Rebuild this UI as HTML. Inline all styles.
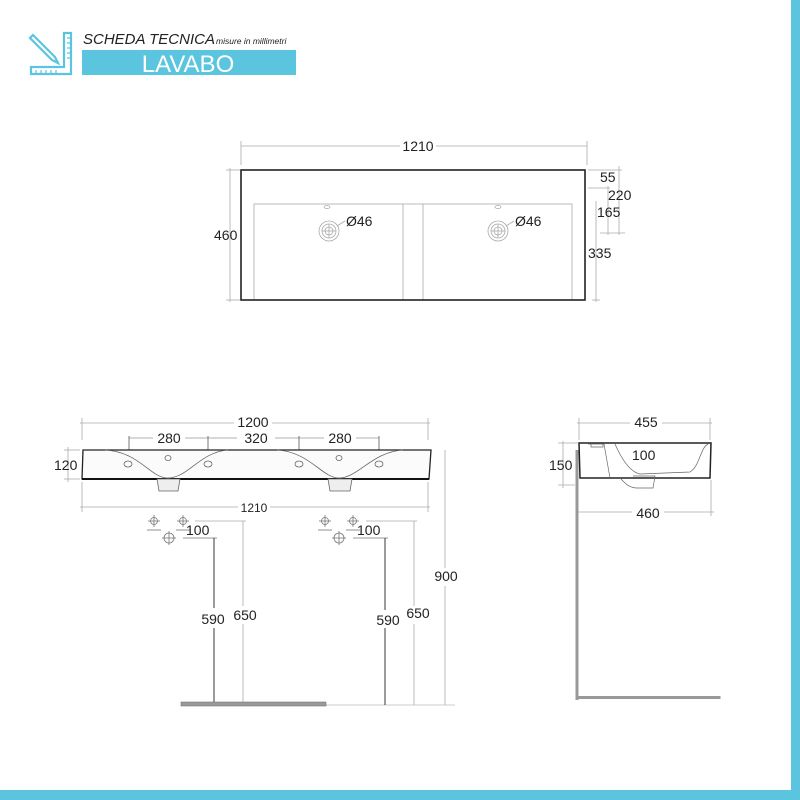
<!DOCTYPE html>
<html><head><meta charset="utf-8"><style>
html,body{margin:0;padding:0;background:#fff}
svg{display:block}
text{font-family:"Liberation Sans",sans-serif;fill:#222}
</style></head><body>
<svg width="800" height="800" viewBox="0 0 800 800" xmlns="http://www.w3.org/2000/svg">
<rect x="0" y="0" width="800" height="800" fill="#fff"/>
<rect x="0" y="790" width="800" height="10" fill="#5bc5e0"/>
<rect x="791" y="0" width="9" height="800" fill="#5bc5e0"/>

<!-- logo -->
<g stroke="#5bc5e0" fill="none" stroke-width="2.2">
<path d="M33 35 L55 57 L58 63 L52 60 L30 38 Z"/>
<path d="M64 33 L71 33 L71 74 L31 74 L31 67 L64 67 Z"/>
<path d="M36 70 v3 M41 70 v3 M46 70 v3 M51 70 v3 M56 70 v3 M67 38 h3 M67 43 h3 M67 48 h3 M67 53 h3 M67 58 h3" stroke-width="1.2"/>
</g>
<text x="83" y="44" font-size="15" font-style="italic" fill="#111">SCHEDA TECNICA</text>
<text x="216" y="44" font-size="8.5" font-style="italic" fill="#111">misure in millimetri</text>
<rect x="82" y="50" width="214" height="25" fill="#5bc5e0"/>
<text x="188" y="72" font-size="24" text-anchor="middle" fill="#fff" style="fill:#fff">LAVABO</text>

<!-- top view -->
<g stroke="#aaa" stroke-width="0.8" fill="none">
<line x1="241" y1="146" x2="587" y2="146"/>
<line x1="241" y1="141" x2="241" y2="165"/><line x1="587" y1="141" x2="587" y2="165"/>
<line x1="230" y1="168" x2="230" y2="302"/>
<line x1="226" y1="170" x2="240" y2="170"/><line x1="226" y1="300" x2="240" y2="300"/>
<line x1="588" y1="170" x2="622" y2="170"/>
<line x1="588" y1="188" x2="610" y2="188"/>
<line x1="600" y1="233" x2="625" y2="233"/>
<line x1="608" y1="186" x2="608" y2="235"/>
<line x1="619" y1="166" x2="619" y2="235"/>
<line x1="596" y1="201" x2="596" y2="302"/>
<line x1="592" y1="300" x2="600" y2="300"/>
<rect x="254" y="204" width="318" height="96"/>
<line x1="403" y1="204" x2="403" y2="300"/><line x1="423" y1="204" x2="423" y2="300"/>
<circle cx="329" cy="231" r="10"/><circle cx="329" cy="231" r="7"/><circle cx="329" cy="231" r="4"/>
<line x1="329" y1="224" x2="329" y2="238"/><line x1="322" y1="231" x2="336" y2="231"/>
<circle cx="498" cy="231" r="10"/><circle cx="498" cy="231" r="7"/><circle cx="498" cy="231" r="4"/>
<line x1="498" y1="224" x2="498" y2="238"/><line x1="491" y1="231" x2="505" y2="231"/>
<path d="M337 226 L345 221"/><path d="M506 226 L514 221"/>
<ellipse cx="327" cy="207" rx="3" ry="1.5"/><ellipse cx="498" cy="207" rx="3" ry="1.5"/>
</g>
<rect x="241" y="170" width="344" height="130" fill="none" stroke="#222" stroke-width="1.6"/>
<g font-size="14">
<rect x="400" y="138" width="36" height="14" fill="#fff"/>
<text x="418" y="151" text-anchor="middle">1210</text>
<text x="214" y="240">460</text>
<text x="346" y="226">Ø46</text><text x="515" y="226">Ø46</text>
<text x="600" y="182">55</text>
<text x="608" y="200">220</text>
<text x="597" y="217">165</text>
<text x="588" y="258">335</text>
</g>

<!-- front view -->
<g stroke="#aaa" stroke-width="0.8" fill="none">
<line x1="80" y1="423" x2="430" y2="423"/>
<line x1="82" y1="418" x2="82" y2="440"/><line x1="428" y1="418" x2="428" y2="440"/>
<line x1="129" y1="438" x2="379" y2="438" stroke="#999"/>
<line x1="129" y1="436" x2="129" y2="456" stroke="#555"/><line x1="208" y1="436" x2="208" y2="456" stroke="#555"/>
<line x1="299" y1="436" x2="299" y2="456" stroke="#555"/><line x1="379" y1="436" x2="379" y2="456" stroke="#555"/>
<line x1="68" y1="447" x2="68" y2="482"/>
<line x1="64" y1="450" x2="80" y2="450"/><line x1="64" y1="479" x2="80" y2="479"/>
<line x1="80" y1="507" x2="430" y2="507"/>
<line x1="82" y1="482" x2="82" y2="512"/><line x1="428" y1="482" x2="428" y2="512"/>
</g>
<path d="M83 450 L431 450 L429 479 L82 479 Z" fill="#fbfbfb" stroke="#222" stroke-width="1.3"/>
<line x1="82" y1="479" x2="429" y2="479" stroke="#111" stroke-width="2"/>
<g stroke="#666" stroke-width="0.8" fill="none">
<path d="M105 450 C140 452,150 478,168 478 C188 478,200 452,228 450"/>
<path d="M277 450 C310 452,322 478,339 478 C358 478,372 452,403 450"/>
<ellipse cx="128" cy="464" rx="4" ry="3"/><ellipse cx="208" cy="464" rx="4" ry="3"/>
<ellipse cx="299" cy="464" rx="4" ry="3"/><ellipse cx="379" cy="464" rx="4" ry="3"/>
<ellipse cx="168" cy="458" rx="3" ry="2.5"/><ellipse cx="339" cy="458" rx="3" ry="2.5"/>
<path d="M157 479 L180 479 L178 491 L159 491 Z" fill="#eee"/>
<path d="M328 479 L352 479 L350 491 L330 491 Z" fill="#eee"/>
</g>
<g font-size="14">
<rect x="234" y="414" width="38" height="14" fill="#fff"/>
<text x="253" y="427" text-anchor="middle">1200</text>
<rect x="153" y="431" width="32" height="14" fill="#fff"/><text x="169" y="443" text-anchor="middle">280</text>
<rect x="237" y="431" width="38" height="14" fill="#fff"/><text x="256" y="443" text-anchor="middle">320</text>
<rect x="324" y="431" width="32" height="14" fill="#fff"/><text x="340" y="443" text-anchor="middle">280</text>
<text x="54" y="470">120</text>
</g>
<rect x="238" y="500" width="32" height="14" fill="#fff"/>
<text x="254" y="512" font-size="12" text-anchor="middle">1210</text>

<!-- plumbing -->
<g stroke="#777" stroke-width="0.8" fill="none">
<circle cx="154" cy="521" r="3.5"/><line x1="154" y1="515" x2="154" y2="527"/><line x1="148" y1="521" x2="160" y2="521"/><line x1="147" y1="530" x2="161" y2="530"/>
<circle cx="183" cy="521" r="3.5"/><line x1="183" y1="515" x2="183" y2="527"/><line x1="177" y1="521" x2="189" y2="521"/><line x1="176" y1="530" x2="190" y2="530"/>
<circle cx="169" cy="538" r="5"/><line x1="169" y1="531" x2="169" y2="545"/><line x1="162" y1="538" x2="176" y2="538"/>
<circle cx="325" cy="521" r="3.5"/><line x1="325" y1="515" x2="325" y2="527"/><line x1="319" y1="521" x2="331" y2="521"/><line x1="318" y1="530" x2="332" y2="530"/>
<circle cx="353" cy="521" r="3.5"/><line x1="353" y1="515" x2="353" y2="527"/><line x1="347" y1="521" x2="359" y2="521"/><line x1="346" y1="530" x2="360" y2="530"/>
<circle cx="339" cy="538" r="5"/><line x1="339" y1="531" x2="339" y2="545"/><line x1="332" y1="538" x2="346" y2="538"/>
<line x1="195" y1="521" x2="246" y2="521" stroke="#aaa"/>
<line x1="243" y1="521" x2="243" y2="705" stroke="#aaa"/>
<line x1="183" y1="538" x2="217" y2="538"/>
<line x1="366" y1="521" x2="417" y2="521" stroke="#aaa"/>
<line x1="414" y1="521" x2="414" y2="705" stroke="#aaa"/>
<line x1="353" y1="538" x2="388" y2="538"/>
<line x1="445" y1="450" x2="445" y2="705" stroke="#aaa"/>
<line x1="326" y1="705" x2="455" y2="705" stroke="#bbb"/>
</g>
<line x1="214" y1="538" x2="214" y2="705" stroke="#222" stroke-width="0.9"/>
<line x1="385" y1="538" x2="385" y2="705" stroke="#222" stroke-width="0.9"/>
<rect x="181" y="702" width="145" height="4" fill="#999" stroke="#777" stroke-width="0.6"/>
<g font-size="14">
<text x="186" y="535">100</text><text x="357" y="535">100</text>
<rect x="200" y="608" width="28" height="20" fill="#fff"/>
<text x="213" y="624" text-anchor="middle">590</text>
<rect x="231" y="606" width="28" height="18" fill="#fff"/>
<text x="245" y="620" text-anchor="middle">650</text>
<rect x="374" y="610" width="28" height="18" fill="#fff"/>
<text x="388" y="625" text-anchor="middle">590</text>
<rect x="404" y="606" width="28" height="18" fill="#fff"/>
<text x="418" y="618" text-anchor="middle">650</text>
<rect x="431" y="568" width="30" height="18" fill="#fff"/>
<text x="446" y="581" text-anchor="middle">900</text>
</g>

<!-- side view -->
<g stroke="#aaa" stroke-width="0.8" fill="none">
<line x1="577" y1="423" x2="712" y2="423"/>
<line x1="579" y1="418" x2="579" y2="440"/><line x1="710" y1="418" x2="710" y2="440"/>
<line x1="563" y1="441" x2="563" y2="488"/>
<line x1="558" y1="443" x2="578" y2="443"/><line x1="558" y1="485" x2="575" y2="485"/>
<line x1="576" y1="512" x2="714" y2="512"/>
<line x1="711" y1="480" x2="711" y2="516"/>
</g>
<path d="M579 443 L711 443 L710 478 L580 478 Z" fill="#fff" stroke="#222" stroke-width="1.5"/>
<g stroke="#666" stroke-width="0.7" fill="none">
<path d="M588 444 L604 444 L610 478"/>
<path d="M615 444 C622 460,630 472,640 474 L690 472 C700 466,700 448,708 444"/>
<path d="M620 478 C626 484,628 487,636 488 L653 488 L655 476 L633 476"/>
<path d="M591 444 L591 447 L603 447 L603 444"/>
</g>
<rect x="575.5" y="450" width="3" height="250" fill="#999"/>
<rect x="575.5" y="696" width="145" height="3" fill="#999"/>
<g font-size="14">
<rect x="630" y="414" width="32" height="14" fill="#fff"/>
<text x="646" y="427" text-anchor="middle">455</text>
<text x="549" y="470">150</text>
<text x="632" y="460">100</text>
<rect x="632" y="504" width="32" height="14" fill="#fff"/>
<text x="648" y="518" text-anchor="middle">460</text>
</g>
</svg>
</body></html>
